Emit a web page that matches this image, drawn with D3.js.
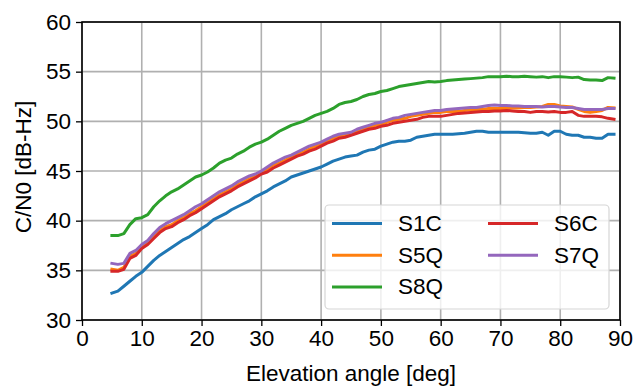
<!DOCTYPE html>
<html><head><meta charset="utf-8">
<script src="https://cdn.jsdelivr.net/npm/d3@7"></script>
<style>body{margin:0;background:#fff}svg{display:block}text{font-family:"Liberation Sans",Arial,sans-serif;fill:#000}</style>
</head><body>
<script>
const elevation = d3.range(5, 90);
const xTicks = [0,10,20,30,40,50,60,70,80,90];
const yTicks = [30,35,40,45,50,55,60];
const seriesNames = ["S1C","S5Q","S8Q","S6C","S7Q"];
const seriesColors = ["#1f77b4","#ff7f0e","#2ca02c","#d62728","#9467bd"];
const S1C = [32.7,32.9,33.4,33.9,34.4,34.8,35.4,36.0,36.5,36.9,37.3,37.7,38.1,38.4,38.8,39.2,39.6,40.1,40.4,40.7,41.1,41.4,41.7,42.0,42.4,42.7,43.0,43.4,43.7,44.0,44.4,44.6,44.8,45.0,45.2,45.4,45.7,46.0,46.2,46.4,46.5,46.6,46.9,47.1,47.2,47.5,47.7,47.9,48.0,48.0,48.1,48.4,48.5,48.6,48.7,48.7,48.7,48.7,48.75,48.8,48.9,49.0,49.0,48.9,48.9,48.9,48.9,48.9,48.9,48.85,48.8,48.8,48.9,48.6,49.0,49.0,48.7,48.6,48.6,48.4,48.4,48.3,48.3,48.7,48.7];
const S5Q = [35.1,35.0,35.3,36.4,36.7,37.4,37.8,38.4,39.0,39.4,39.6,40.0,40.3,40.7,41.0,41.4,41.8,42.2,42.6,42.9,43.2,43.6,43.9,44.2,44.5,44.8,45.2,45.6,45.8,46.1,46.4,46.7,46.9,47.2,47.5,47.7,48.0,48.3,48.5,48.6,48.7,49.0,49.2,49.4,49.6,49.7,49.9,50.1,50.2,50.3,50.5,50.6,50.7,50.8,50.9,50.9,51.0,51.0,51.0,51.1,51.2,51.2,51.2,51.3,51.3,51.3,51.3,51.35,51.35,51.4,51.4,51.45,51.5,51.7,51.7,51.55,51.5,51.45,51.2,51.0,50.9,51.0,51.1,51.4,51.35];
const S8Q = [38.5,38.5,38.7,39.6,40.2,40.3,40.6,41.4,42.0,42.5,42.9,43.2,43.6,44.0,44.4,44.6,44.9,45.3,45.8,46.1,46.3,46.7,47.0,47.4,47.7,47.9,48.2,48.6,49.0,49.3,49.6,49.8,50.0,50.3,50.6,50.8,51.0,51.3,51.7,51.9,52.0,52.2,52.5,52.7,52.8,53.0,53.1,53.3,53.5,53.6,53.7,53.8,53.9,54.0,53.95,54.0,54.1,54.15,54.2,54.25,54.3,54.35,54.4,54.5,54.5,54.5,54.55,54.5,54.5,54.55,54.5,54.45,54.5,54.4,54.5,54.5,54.45,54.4,54.45,54.2,54.15,54.15,54.1,54.4,54.35];
const S6C = [34.9,34.9,35.1,36.2,36.5,37.2,37.6,38.2,38.8,39.2,39.4,39.8,40.1,40.5,40.8,41.2,41.6,42.0,42.4,42.7,43.0,43.4,43.7,44.0,44.3,44.7,44.9,45.3,45.6,45.9,46.2,46.5,46.7,47.0,47.2,47.5,47.8,48.0,48.3,48.4,48.6,48.8,49.0,49.2,49.3,49.5,49.6,49.8,49.9,50.0,50.1,50.2,50.4,50.5,50.5,50.5,50.6,50.7,50.8,50.85,50.9,50.95,51.0,51.0,51.05,51.05,51.1,51.05,51.0,51.0,50.9,51.0,51.0,50.95,51.0,50.9,50.9,51.0,50.6,50.5,50.5,50.5,50.45,50.3,50.2];
const S7Q = [35.7,35.6,35.7,36.7,37.0,37.6,38.0,38.7,39.3,39.7,40.0,40.3,40.6,41.0,41.4,41.7,42.1,42.5,42.9,43.2,43.5,43.9,44.2,44.5,44.7,45.0,45.4,45.8,46.1,46.4,46.6,46.9,47.2,47.5,47.7,47.9,48.2,48.5,48.7,48.8,48.9,49.2,49.4,49.6,49.8,49.9,50.1,50.3,50.4,50.6,50.7,50.8,50.9,51.0,51.1,51.1,51.2,51.25,51.3,51.35,51.4,51.4,51.5,51.6,51.65,51.6,51.6,51.55,51.55,51.5,51.5,51.5,51.45,51.5,51.5,51.45,51.4,51.4,51.3,51.2,51.2,51.2,51.2,51.3,51.3];
const seriesValues = [S1C,S5Q,S8Q,S6C,S7Q];

const W=633,H=387, L=82, R=620, T=22, B=320, FS=22.5;
const svg=d3.select("body").append("svg").attr("width",W).attr("height",H);
const x=d3.scaleLinear().domain([0,90]).range([L,R]);
const y=d3.scaleLinear().domain([30,60]).range([B,T]);

// grid
svg.append("g").selectAll("line").data(xTicks).join("line")
  .attr("x1",d=>x(d)).attr("x2",d=>x(d)).attr("y1",T).attr("y2",B)
  .attr("stroke","#b0b0b0").attr("stroke-width",1.6);
svg.append("g").selectAll("line").data(yTicks).join("line")
  .attr("y1",d=>y(d)).attr("y2",d=>y(d)).attr("x1",L).attr("x2",R)
  .attr("stroke","#b0b0b0").attr("stroke-width",1.6);

// lines
const line=d3.line().x((d,i)=>x(elevation[i])).y(d=>y(d));
seriesValues.forEach((vals,k)=>{
  svg.append("path").datum(vals).attr("d",line).attr("fill","none")
    .attr("stroke",seriesColors[k]).attr("stroke-width",3).attr("stroke-linejoin","round").attr("stroke-linecap","square");
});

// axes
const xa=svg.append("g").attr("transform",`translate(0,${B})`).call(d3.axisBottom(x).tickValues(xTicks).tickSize(6).tickPadding(4));
const ya=svg.append("g").attr("transform",`translate(${L},0)`).call(d3.axisLeft(y).tickValues(yTicks).tickSize(6).tickPadding(5));
[xa,ya].forEach(a=>{a.select(".domain").remove();a.selectAll("line").attr("stroke","#000").attr("stroke-width",1.3);
  a.selectAll("text").attr("font-size",FS).attr("font-family","Liberation Sans, Arial, sans-serif");});
// frame
svg.append("rect").attr("x",L).attr("y",T).attr("width",R-L).attr("height",B-T).attr("fill","none").attr("stroke","#000").attr("stroke-width",1.6);

svg.append("text").attr("x",(L+R)/2).attr("y",381).attr("text-anchor","middle").attr("font-size",FS).text("Elevation angle [deg]");
svg.append("text").attr("transform",`translate(31,167) rotate(-90)`).attr("text-anchor","middle").attr("font-size",FS).text("C/N0 [dB-Hz]");

// legend
const lg=svg.append("g");
lg.append("rect").attr("x",325).attr("y",205).attr("width",284).attr("height",104).attr("rx",4)
  .attr("fill","#fff").attr("fill-opacity",0.8).attr("stroke","#d6d6d6").attr("stroke-width",1.2);
const pos=[[0,0],[0,1],[0,2],[1,0],[1,1]];
seriesNames.forEach((n,k)=>{
  const cx=332+pos[k][0]*156, cy=223.5+pos[k][1]*31.7;
  lg.append("line").attr("x1",cx).attr("x2",cx+50).attr("y1",cy).attr("y2",cy).attr("stroke",seriesColors[k]).attr("stroke-width",3);
  lg.append("text").attr("x",cx+66).attr("y",cy+7.5).attr("font-size",FS).text(n);
});
</script>
</body></html>
